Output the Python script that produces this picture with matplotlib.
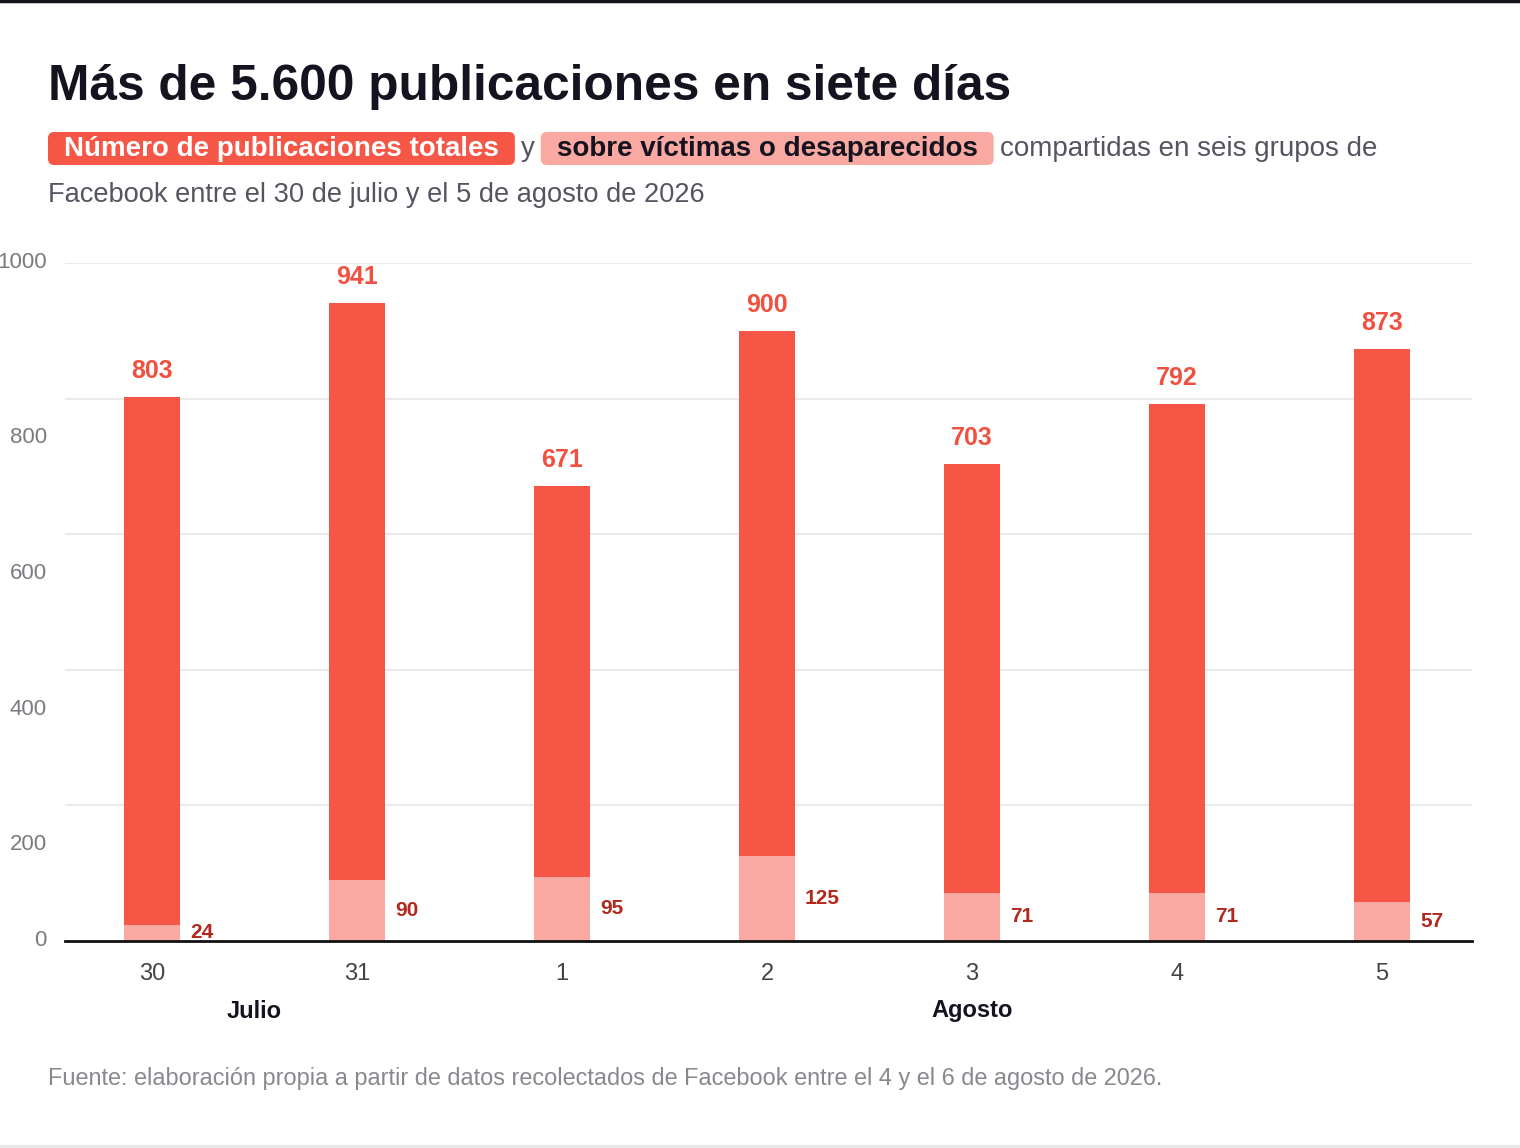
import matplotlib as mpl
mpl.use('Agg')
import matplotlib.pyplot as plt
from matplotlib.patches import FancyBboxPatch
import numpy as np

# datos
dias = ['30', '31', '1', '2', '3', '4', '5']
totales = [803, 941, 671, 900, 703, 792, 873]
victimas = [24, 90, 95, 125, 71, 71, 57]
yticks = [0, 200, 400, 600, 800, 1000]
meses = ['Julio', 'Agosto']

C_TOTAL = '#F55646'
C_VICT = '#F9A9A1'
C_LAB_TOTAL = '#F0503F'
C_LAB_VICT = '#B3281D'
C_TITLE = '#14131F'
C_SUB = '#555560'

plt.rcParams['font.family'] = ['Liberation Sans', 'DejaVu Sans']

W, H = 1520, 1148
fig = plt.figure(figsize=(W / 100, H / 100), dpi=100)
fig.patch.set_facecolor('white')

def fx(px):
    return px / W

def fy(py):
    return 1 - py / H

ax = fig.add_axes([fx(65), fy(941), fx(1472) - fx(65), (941 - 263) / H])
x = np.arange(len(dias))
ax.bar(x, totales, width=0.273, color=C_TOTAL, zorder=2)
ax.bar(x, victimas, width=0.273, color=C_VICT, zorder=3)
ax.set_xlim(-0.424, 6.439)
ax.set_ylim(0, 1000)

for xi, t, v in zip(x, totales, victimas):
    ax.annotate(str(t), (xi, t), xytext=(0, 14), textcoords='offset pixels',
                ha='center', va='bottom', fontsize=18, fontweight='bold', color=C_LAB_TOTAL)
    ax.annotate(str(v), (xi + 0.1365, v / 2), xytext=(10, 0), textcoords='offset pixels',
                ha='left', va='center', fontsize=15, fontweight='bold', color=C_LAB_VICT)

for s in ['top', 'right', 'left']:
    ax.spines[s].set_visible(False)
ax.spines['bottom'].set_color('#111111')
ax.spines['bottom'].set_linewidth(2)
ax.spines['bottom'].set_zorder(4)
ax.set_yticks(yticks[1:])
ax.set_yticklabels([])
ax.tick_params(axis='y', length=0)
ax.grid(axis='y', color='#E6E6E6', linewidth=1.2, zorder=0)
ax.set_xticks(x)
ax.set_xticklabels(dias, fontsize=17, color='#444444')
ax.tick_params(axis='x', length=0, pad=16)

# etiquetas del eje y (desplazadas como en el original)
for v in yticks:
    yv = v if v in (0, 1000) else v - 58
    ax.text(-0.0128, yv, str(v), transform=ax.get_yaxis_transform(), ha='right', va='center',
            fontsize=16, color='#7A7A80')

# meses
ax.annotate(meses[0], ((x[0] + x[1]) / 2, 0), xytext=(0, -70), textcoords='offset pixels',
            ha='center', va='center', fontsize=17, fontweight='bold', color=C_TITLE)
ax.annotate(meses[1], (x[4], 0), xytext=(0, -70), textcoords='offset pixels',
            ha='center', va='center', fontsize=17, fontweight='bold', color=C_TITLE)

# titulo
fig.text(fx(48), fy(87), 'Más de 5.600 publicaciones en siete días', ha='left', va='center',
         fontsize=35.7, fontweight='bold', color=C_TITLE)

# subtitulo con resaltados
renderer = fig.canvas.get_renderer()
sub_y = fy(149)
cur = 48
pieces = [
    ('Número de publicaciones totales', 'white', 'bold', C_TOTAL, 16),
    ('y', C_SUB, 'normal', None, 6),
    ('sobre víctimas o desaparecidos', C_TITLE, 'bold', C_VICT, 16),
    ('compartidas en seis grupos de', C_SUB, 'normal', None, 6),
]
for txt, col, wt, bg, pad in pieces:
    t = fig.text(fx(cur + pad), sub_y, txt, ha='left', va='center', fontsize=20,
                 fontweight=wt, color=col, zorder=3)
    bb = t.get_window_extent(renderer)
    if bg is not None:
        box = FancyBboxPatch((cur / W, fy(165)), (bb.width + 2 * pad) / W, 33 / H,
                             boxstyle='round,pad=0,rounding_size=0.004', facecolor=bg,
                             edgecolor='none', transform=fig.transFigure, zorder=2,
                             mutation_aspect=W / H)
        fig.add_artist(box)
    cur = cur + bb.width + 2 * pad
fig.text(fx(48), fy(195), 'Facebook entre el 30 de julio y el 5 de agosto de 2026', ha='left',
         va='center', fontsize=19.6, color=C_SUB)

# fuente
fig.text(fx(48), fy(1078), 'Fuente: elaboración propia a partir de datos recolectados de Facebook '
         'entre el 4 y el 6 de agosto de 2026.', ha='left', va='center', fontsize=16.9, color='#88888E')

# bordes
fig.add_artist(plt.Line2D([0, 1], [fy(1), fy(1)], color=C_TITLE, linewidth=2.5))
fig.add_artist(plt.Rectangle((0, 0), 1, 3 / H, color='#E8E8EA', transform=fig.transFigure))

fig.savefig('out.png', dpi=100)
